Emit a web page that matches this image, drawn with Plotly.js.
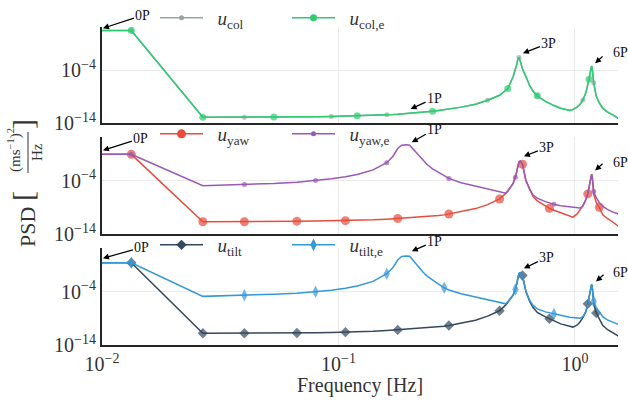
<!DOCTYPE html>
<html><head><meta charset="utf-8">
<script src="https://cdn.plot.ly/plotly-3.0.1.min.js"></script>
<style>html,body{margin:0;padding:0;background:#fff}</style>
</head><body><div id="chart" style="width:628px;height:401px"></div>
<script>
// frequency grid [Hz]
const freq = [0.001, 0.0133, 0.0267, 0.04, 0.0533, 0.0667, 0.08, 0.0933, 0.107, 0.12,
  0.14, 0.16, 0.17, 0.178, 0.185, 0.193, 0.2, 0.207, 0.213, 0.22,
  0.228, 0.237, 0.25, 0.265, 0.28, 0.293, 0.33, 0.38, 0.427, 0.48,
  0.51, 0.52, 0.547, 0.56, 0.567, 0.573, 0.58, 0.587, 0.6, 0.62,
  0.643, 0.665, 0.693, 0.75, 0.78, 0.815, 0.87, 0.95, 0.98, 1.02,
  1.05, 1.08, 1.11, 1.133, 1.147, 1.16, 1.168, 1.175, 1.182, 1.19,
  1.2, 1.23, 1.267, 1.31, 1.37, 1.45, 1.52, 1.6];

// log10 of PSD values
const colLog = [3.5, 3.5, -12.9, -12.9, -12.88, -12.85, -12.8, -12.75, -12.7, -12.65,
  -12.55, -12.45, -12.4, -12.35, -12.3, -12.25, -12.2, -12.15, -12.1, -12.05,
  -12.0, -11.92, -11.8, -11.65, -11.5, -11.38, -11.0, -10.45, -9.7, -8.75,
  -7.9, -7.5, -5.3, -4.0, -3.0, -2.0, -1.6, -2.3, -3.8, -5.2,
  -6.9, -8.0, -8.85, -9.9, -10.3, -10.7, -11.2, -11.65, -11.45, -11.0,
  -10.5, -9.65, -8.4, -7.0, -5.75, -4.5, -3.6, -3.25, -3.5, -4.7,
  -6.4, -8.9, -10.2, -11.2, -11.9, -12.5, -13.1, -13.5];
const colELog = [3.5, 3.5, -12.9, -12.9, -12.88, -12.85, -12.8, -12.75, -12.7, -12.65,
  -12.55, -12.45, -12.4, -12.35, -12.3, -12.25, -12.2, -12.15, -12.1, -12.05,
  -12.0, -11.92, -11.8, -11.65, -11.5, -11.38, -11.0, -10.45, -9.7, -8.75,
  -7.9, -7.5, -5.3, -4.0, -3.0, -2.0, -1.6, -2.3, -3.8, -5.2,
  -6.9, -8.0, -8.85, -9.9, -10.3, -10.7, -11.2, -11.65, -11.45, -11.0,
  -10.5, -9.65, -8.4, -7.0, -5.75, -4.5, -3.6, -3.25, -3.5, -4.7,
  -6.4, -8.9, -10.2, -11.2, -11.9, -12.5, -13.1, -13.5];
const yawLog = [0.9, 0.9, -11.7, -11.7, -11.65, -11.6, -11.55, -11.52, -11.5, -11.45,
  -11.35, -11.22, -11.15, -11.1, -11.05, -11.0, -10.97, -10.93, -10.9, -10.87,
  -10.83, -10.78, -10.68, -10.55, -10.42, -10.25, -9.85, -9.25, -8.5, -7.45,
  -6.4, -6.0, -4.6, -3.4, -2.4, -1.3, -0.5, -0.35, -0.95, -4.0,
  -5.7, -7.0, -7.8, -8.75, -9.2, -9.55, -10.05, -10.6, -10.85, -10.3,
  -9.6, -8.7, -7.6, -6.5, -5.3, -4.0, -3.2, -2.85, -3.1, -4.4,
  -6.6, -8.1, -9.0, -10.4, -11.1, -11.8, -12.5, -13.0];
const yawELog = [0.9, 0.9, -4.95, -4.75, -4.55, -4.3, -4.0, -3.65, -3.3, -2.85,
  -2.0, -0.66, 0.55, 2.0, 2.6, 2.68, 2.6, 1.85, 1.2, 0.55,
  -0.35, -1.0, -1.8, -2.5, -3.1, -3.6, -4.4, -5.0, -5.6, -6.1,
  -6.35, -5.9, -4.6, -3.4, -2.4, -1.3, -0.5, -0.35, -0.95, -3.9,
  -5.6, -6.7, -7.3, -7.95, -8.2, -8.45, -8.7, -8.95, -9.05, -9.12,
  -9.15, -8.8, -7.7, -6.5, -5.3, -4.0, -3.2, -2.85, -3.0, -4.2,
  -6.0, -7.2, -8.1, -8.8, -9.4, -9.9, -10.3, -10.6];
const tiltLog = [1.4, 1.4, -11.8, -11.8, -11.78, -11.75, -11.7, -11.65, -11.6, -11.55,
  -11.45, -11.3, -11.22, -11.17, -11.12, -11.08, -11.05, -11.0, -10.97, -10.93,
  -10.88, -10.83, -10.75, -10.62, -10.5, -10.36, -9.95, -9.35, -8.6, -7.6,
  -6.5, -6.05, -4.7, -3.6, -2.5, -1.4, -0.6, -0.47, -1.0, -4.0,
  -5.8, -7.0, -7.9, -8.75, -9.1, -9.55, -10.05, -10.5, -10.65, -10.3,
  -9.7, -8.9, -7.8, -6.3, -5.2, -4.0, -3.1, -2.7, -2.9, -4.2,
  -6.2, -8.0, -9.2, -10.3, -11.1, -11.8, -12.4, -12.9];
const tiltELog = [1.4, 1.4, -4.9, -4.7, -4.5, -4.3, -4.05, -3.75, -3.4, -2.95,
  -2.1, -0.66, 0.5, 1.9, 2.55, 2.66, 2.6, 1.8, 1.1, 0.47,
  -0.4, -1.1, -1.9, -2.6, -3.3, -3.7, -4.4, -5.0, -5.55, -6.05,
  -6.3, -5.9, -4.7, -3.6, -2.5, -1.4, -0.6, -0.47, -1.0, -3.9,
  -5.6, -6.6, -7.25, -7.8, -8.0, -8.2, -8.45, -8.8, -8.9, -9.0,
  -9.0, -8.7, -7.8, -6.4, -5.2, -4.0, -3.1, -2.7, -2.9, -4.1,
  -5.8, -7.0, -7.9, -8.7, -9.3, -9.8, -10.2, -10.5];

// frequencies carrying a marker
const colMarks = [0.0133, 0.04, 0.0933, 0.16, 0.427, 0.58, 0.693, 1.08, 1.2];
const colEMarks = [0.0133, 0.0267, 0.0533, 0.12, 0.25, 0.52, 0.693, 1.147];
const yawMarks = [0.0133, 0.0267, 0.04, 0.0667, 0.107, 0.178, 0.293, 0.48, 0.6, 0.78, 1.133, 1.267];
const yawEMarks = [0.0133, 0.04, 0.08, 0.16, 0.293, 0.56, 0.815, 1.2];
const tiltMarks = [0.0133, 0.0267, 0.04, 0.0667, 0.107, 0.178, 0.293, 0.48, 0.6, 0.78, 1.133, 1.23];
const tiltEMarks = [0.0133, 0.04, 0.08, 0.16, 0.28, 0.56, 0.815, 1.2];

const seriesNames = ['<i>u</i><sub>col</sub>', '<i>u</i><sub>col,e</sub>', '<i>u</i><sub>yaw</sub>',
  '<i>u</i><sub>yaw,e</sub>', '<i>u</i><sub>tilt</sub>', '<i>u</i><sub>tilt,e</sub>'];

// annotation labels
const harmLabels = ['0P', '1P', '3P', '6P'];

const FONT = "'Liberation Serif', serif";
const series = [
  {name: seriesNames[0], v: colLog, m: colMarks, c: '#95a5a6', s: 5, sym: 'circle', ax: 1},
  {name: seriesNames[1], v: colELog, m: colEMarks, c: '#2ecc71', s: 7, sym: 'circle', ax: 1},
  {name: seriesNames[2], v: yawLog, m: yawMarks, c: '#e74c3c', s: 9, sym: 'circle', ax: 2},
  {name: seriesNames[3], v: yawELog, m: yawEMarks, c: '#9b59b6', s: 5, sym: 'circle', ax: 2},
  {name: seriesNames[4], v: tiltLog, m: tiltMarks, c: '#34495e', s: 8, sym: 'diamond', ax: 3},
  {name: seriesNames[5], v: tiltELog, m: tiltEMarks, c: '#3498db', s: 9, sym: 'diamond-tall', ax: 3}
];

const traces = [];
series.forEach(sr => {
  const xa = sr.ax === 1 ? 'x' : 'x' + sr.ax;
  const ya = sr.ax === 1 ? 'y' : 'y' + sr.ax;
  const lg = sr.ax === 1 ? 'legend' : 'legend' + sr.ax;
  traces.push({
    x: freq, y: sr.v.map(v => Math.pow(10, v)), xaxis: xa, yaxis: ya,
    mode: 'lines+markers', showlegend: false, hoverinfo: 'skip',
    line: {color: sr.c, width: 1.5},
    marker: {color: sr.c, symbol: sr.sym, size: freq.map(f => sr.m.includes(f) ? sr.s : 0), line: {width: 0}}
  });
  traces.push({
    x: [null], y: [null], xaxis: xa, yaxis: ya, name: '\u00a0\u00a0' + sr.name, legend: lg,
    mode: 'lines+markers', showlegend: true,
    line: {color: sr.c, width: 1.5},
    marker: {color: sr.c, symbol: sr.sym, size: sr.s, line: {width: 0}}
  });
});

const W = 516, H = 318, L = 102, T = 27;
const px2x = p => (p - L) / W;
const py2y = p => (T + H - p) / H;

const gridC = '#ebebeb', lineC = '#262626';
function xax(showLabels, anchor) {
  const o = {
    type: 'log', range: [-2, 0.182], anchor: anchor,
    tickmode: 'array', tickvals: [0.01, 0.1, 1],
    ticktext: ['10<sup>−2</sup>', '10<sup>−1</sup>', '10<sup>0</sup>'],
    showticklabels: showLabels, ticks: '', showgrid: true, gridcolor: gridC, gridwidth: 1,
    showline: true, linecolor: lineC, linewidth: 2, zeroline: false,
    tickfont: {family: FONT, size: 20, color: '#333'}
  };
  if (anchor !== 'y') o.matches = 'x';
  return o;
}
function yax(domain, anchor) {
  return {
    type: 'log', range: [-14, 4.15], domain: domain, anchor: anchor,
    tickmode: 'array', tickvals: [1e-14, 1e-4], ticktext: ['10<sup>−14</sup>', '10<sup>−4</sup>'],
    ticks: '', showgrid: true, gridcolor: gridC, gridwidth: 1,
    showline: true, linecolor: lineC, linewidth: 2, zeroline: false,
    tickfont: {family: FONT, size: 20, color: '#333'}
  };
}

// arrow annotations with text: [axis index, tip x (log10 f), tip y (log10 PSD), ax, ay, label index]
const arrowSpecs = [
  [1, -1.996, 3.92, 40, -13, 0], [1, -0.695, -11.36, 24, -11, 1], [1, -0.22, -0.79, 26, -10, 2],
  [2, -1.996, 1.66, 38, -12, 0], [2, -0.69, 3.17, 23, -13, 1], [2, -0.216, 0.53, 23, -9, 2],
  [3, -1.996, 2.23, 39, -11, 0], [3, -0.69, 3.55, 23, -10, 1], [3, -0.216, 0.34, 23, -11, 2]
];
const annotations = arrowSpecs.map(a => ({
  xref: a[0] === 1 ? 'x' : 'x' + a[0], yref: a[0] === 1 ? 'y' : 'y' + a[0],
  x: a[1], y: a[2], ax: a[3], ay: a[4], text: harmLabels[a[5]],
  showarrow: true, arrowhead: 2, arrowsize: 1, arrowwidth: 1.2, arrowcolor: '#000', standoff: 0,
  font: {family: FONT, size: 14, color: '#111'}
}));
// 6P: arrow drawn separately from its label (label sits at the right edge)
const sixSpecs = [[1, 0.085, -2.68, 53], [2, 0.085, -2.11, 162], [3, 0.089, -2.11, 272]];
sixSpecs.forEach(a => {
  annotations.push({
    xref: a[0] === 1 ? 'x' : 'x' + a[0], yref: a[0] === 1 ? 'y' : 'y' + a[0],
    x: a[1], y: a[2], ax: 9, ay: -8, text: '', showarrow: true,
    arrowhead: 2, arrowsize: 1, arrowwidth: 1.2, arrowcolor: '#000', standoff: 0
  });
  annotations.push({
    xref: 'paper', yref: 'paper', x: px2x(611), y: py2y(a[3]), text: harmLabels[3],
    showarrow: false, xanchor: 'left', yanchor: 'middle', font: {family: FONT, size: 14, color: '#111'}
  });
});

// axis titles
annotations.push({xref: 'paper', yref: 'paper', x: 0.5, y: py2y(385), text: 'Frequency [Hz]',
  showarrow: false, xanchor: 'center', yanchor: 'middle', font: {family: FONT, size: 20, color: '#333'}});
annotations.push({xref: 'paper', yref: 'paper', x: px2x(27), y: py2y(227), text: 'PSD', textangle: -90,
  showarrow: false, xanchor: 'center', yanchor: 'middle', font: {family: FONT, size: 22, color: '#333'}});
annotations.push({xref: 'paper', yref: 'paper', x: px2x(22), y: py2y(196), text: '[', textangle: -90,
  showarrow: false, xanchor: 'center', yanchor: 'middle', font: {family: FONT, size: 30, color: '#333'}});
annotations.push({xref: 'paper', yref: 'paper', x: px2x(22), y: py2y(124), text: ']', textangle: -90,
  showarrow: false, xanchor: 'center', yanchor: 'middle', font: {family: FONT, size: 30, color: '#333'}});
annotations.push({xref: 'paper', yref: 'paper', x: px2x(14), y: py2y(150), text: '(ms<sup>−1</sup>)<sup>2</sup>', textangle: -90,
  showarrow: false, xanchor: 'center', yanchor: 'middle', font: {family: FONT, size: 15, color: '#333'}});
annotations.push({xref: 'paper', yref: 'paper', x: px2x(37), y: py2y(152), text: 'Hz', textangle: -90,
  showarrow: false, xanchor: 'center', yanchor: 'middle', font: {family: FONT, size: 15, color: '#333'}});

const shapes = [{type: 'line', xref: 'paper', yref: 'paper', x0: px2x(28), x1: px2x(28), y0: py2y(132), y1: py2y(173),
  line: {color: '#333', width: 1}}];

function leg(py) {
  return {orientation: 'h', x: px2x(155), y: py2y(py), xanchor: 'left', yanchor: 'middle',
    bgcolor: 'rgba(0,0,0,0)', font: {family: FONT, size: 19, color: '#333'},
    itemwidth: 43, entrywidth: 74, entrywidthmode: 'pixels', tracegroupgap: 0};
}

const layout = {
  width: 628, height: 401, margin: {l: L, r: 628 - L - W, t: T, b: 401 - T - H, autoexpand: false},
  paper_bgcolor: '#fff', plot_bgcolor: '#fff', showlegend: true,
  xaxis: xax(false, 'y'), xaxis2: xax(false, 'y2'), xaxis3: xax(true, 'y3'),
  yaxis: yax([1 - 96 / H, 1], 'x'), yaxis2: yax([1 - 207 / H, 1 - 110 / H], 'x2'), yaxis3: yax([0, 97 / H], 'x3'),
  legend: leg(18), legend2: leg(134), legend3: leg(245),
  annotations: annotations, shapes: shapes
};

Plotly.newPlot('chart', traces, layout, {staticPlot: true, displayModeBar: false});
</script></body></html>
